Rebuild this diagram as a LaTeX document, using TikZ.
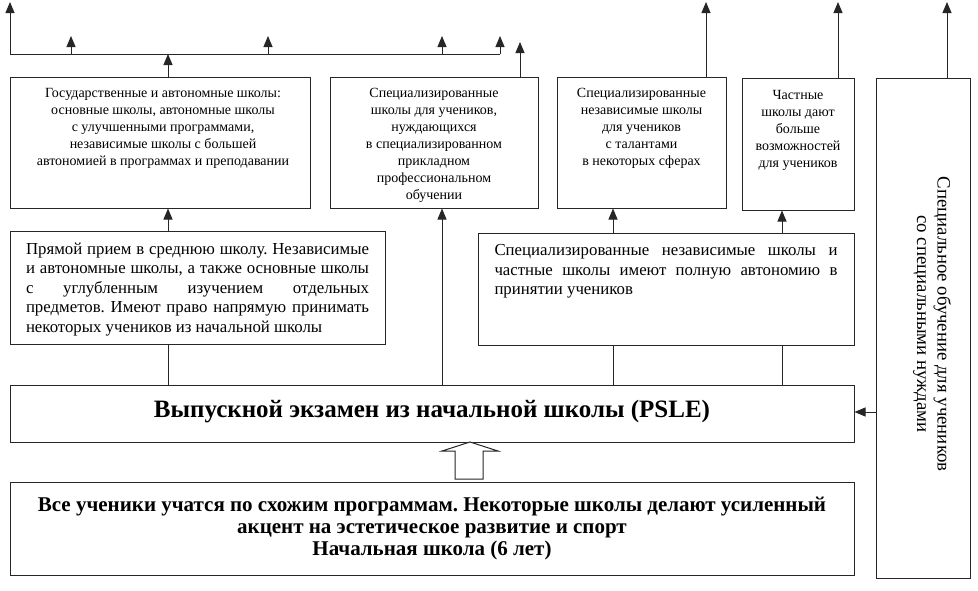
\documentclass[tikz,border=0pt]{standalone}
\usepackage{fontspec}
\setmainfont{Liberation Serif}
\usetikzlibrary{arrows.meta}
\frenchspacing

\begin{document}
\begin{tikzpicture}[x=1pt, y=-1pt,
    box/.style={draw=black!85, line width=1pt, inner sep=0pt},
    txt/.style={inner sep=0pt, anchor=north, align=center, font=\fontsize{14}{17}\selectfont},
    para/.style={inner sep=0pt, anchor=north, text width=343pt, align=justify, font=\fontsize{16.8}{19.5}\selectfont},
    link/.style={line width=1pt, draw=black!85},
    up/.style={link, -{Triangle[width=9pt, length=11pt]}}]
    \useasboundingbox (0,0) rectangle (978,590);
    % boxes
    \node[box, minimum width=300pt, minimum height=131pt] (gov) at (160,142.5) {};
    \node[box, minimum width=208pt, minimum height=131pt] (voc) at (434,142.5) {};
    \node[box, minimum width=169pt, minimum height=131pt] (tal) at (641.5,142.5) {};
    \node[box, minimum width=112pt, minimum height=132pt] (priv) at (798,144) {};
    \node[box, minimum width=94pt, minimum height=500pt] (sen) at (923,328) {};
    \node[box, minimum width=375pt, minimum height=113pt] (dsa) at (197.5,287.5) {};
    \node[box, minimum width=376pt, minimum height=112pt] (auto) at (666,289) {};
    \node[box, minimum width=844pt, minimum height=57pt] (psle) at (432,413.5) {};
    \node[box, minimum width=844pt, minimum height=93pt] (prim) at (432,528.5) {};
    % texts
    \node[txt] (govtxt) at ([xshift=3pt, yshift=-12pt]gov.north) {Государственные и автономные школы:\\основные школы, автономные школы\\с улучшенными программами,\\независимые школы с большей\\автономией в программах и преподавании};
    \node[txt] (voctxt) at ([yshift=-12pt]voc.north) {Специализированные\\школы для учеников,\\нуждающихся\\в специализированном\\прикладном\\профессиональном\\обучении};
    \node[txt] (taltxt) at ([yshift=-12pt]tal.north) {Специализированные\\независимые школы\\для учеников\\с талантами\\в некоторых сферах};
    \node[txt] (privtxt) at ([yshift=-13pt]priv.north) {Частные\\школы дают\\больше\\возможностей\\для учеников};
    \node[para] (dsatxt) at ([yshift=-12pt]dsa.north) {Прямой прием в среднюю школу. Независимые\linebreak и автономные школы, а также основные школы\linebreak с углубленным изучением отдельных\linebreak предметов. Имеют право напрямую принимать\linebreak некоторых учеников из начальной школы};
    \node[para] (autotxt) at ([yshift=-12pt]auto.north) {Специализированные независимые школы и\linebreak частные школы имеют полную автономию в\linebreak принятии учеников};
    \node[font=\bfseries\fontsize{25}{28}\selectfont] (psletxt) at ([yshift=2pt]psle.center) {Выпускной экзамен из начальной школы (PSLE)};
    \node[align=center, font=\bfseries\fontsize{21}{22}\selectfont] (primtxt) at (prim.center) {Все ученики учатся по схожим программам. Некоторые школы делают усиленный\\акцент на эстетическое развитие и спорт\\Начальная школа (6 лет)};
    \node[rotate=-90, align=center, font=\fontsize{18.8}{20.5}\selectfont] (sentxt) at ([xshift=9pt, yshift=4pt]sen.center) {Специальное обучение для учеников\\со специальными нуждами};
    % connectors
    \coordinate (busL) at (10,54);
    \coordinate (busR) at (500,54);
    \draw[link] (busL) -- (busR);
    \draw[up] (busL) -- (10,2);
    \foreach \x in {71,268,442,500}
      \draw[up] (\x,54) -- (\x,36);
    \draw[up] (168,0 |- gov.north) -- (168,54);
    \draw[up] (520,0 |- voc.north) -- (520,42);
    \draw[up] (706,0 |- tal.north) -- (706,2);
    \draw[up] (838,0 |- priv.north) -- (838,2);
    \draw[up] (947,0 |- sen.north) -- (947,2);
    \draw[up] (168,0 |- dsa.north) -- (168,0 |- gov.south);
    \draw[link] (168,0 |- psle.north) -- (168,0 |- dsa.south);
    \draw[up] (442,0 |- psle.north) -- (442,0 |- voc.south);
    \draw[link] (613,0 |- psle.north) -- (613,0 |- auto.south);
    \draw[link] (782,0 |- psle.north) -- (782,0 |- auto.south);
    \draw[up] (613,0 |- auto.north) -- (613,0 |- tal.south);
    \draw[up] (782,0 |- auto.north) -- (782,0 |- priv.south);
    \draw[up] (sen.west |- 0,412) -- (psle.east |- 0,412);
    % hollow arrow
    \draw[link, fill=white] (455,479) -- (455,451) -- (442,451) -- (470,442) -- (498,451) -- (483,451) -- (483,479) -- cycle;
\end{tikzpicture}
\end{document}
